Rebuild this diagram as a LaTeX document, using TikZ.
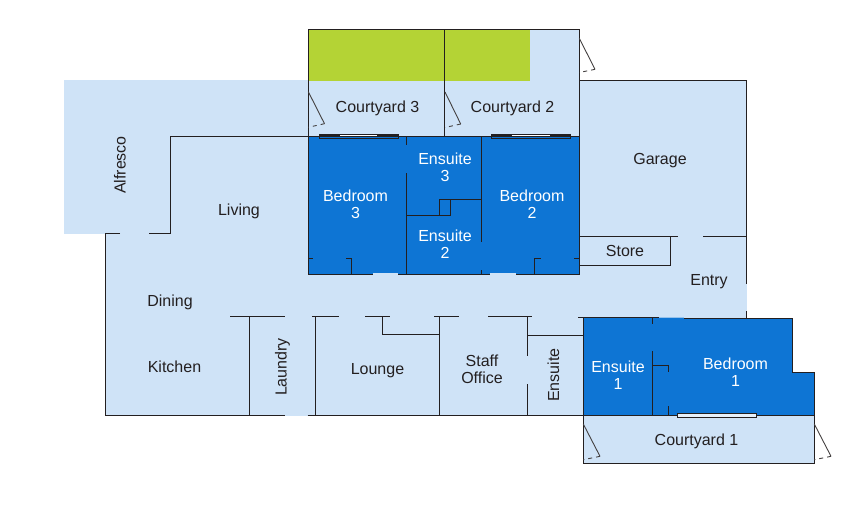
\documentclass[tikz,border=0pt]{standalone}
\usepackage{fontspec}
\setmainfont{Liberation Sans}
\definecolor{lightroom}{RGB}{207,227,247}
\definecolor{darkroom}{RGB}{14,117,212}
\definecolor{planting}{RGB}{180,211,53}
\definecolor{wallc}{RGB}{35,31,32}
\tikzset{
  wall/.style={draw=wallc,line width=1.15pt,line cap=butt,line join=miter},
  swing/.style={draw=wallc!85,line width=0.9pt},
  swingdash/.style={draw=wallc!85,line width=0.9pt,dash pattern=on 4pt off 4pt},
  lbl/.style={text=wallc,font=\fontsize{16}{17}\selectfont,align=center,inner sep=0pt},
  wlbl/.style={lbl,text=white},
}
\begin{document}
\begin{tikzpicture}[x=1pt,y=-1pt]
\useasboundingbox (0,0) rectangle (862,512);
% fills
\fill[lightroom] (64,80) rectangle (308.5,233.7);
\fill[lightroom] (105.3,233) rectangle (583.5,416);
\fill[lightroom] (105.3,233) rectangle (747,317.5);
\fill[lightroom] (308.3,29.3) rectangle (579.3,137);
\fill[lightroom] (579,80.3) rectangle (746.5,317.5);
\fill[lightroom] (583.3,415.3) rectangle (814.3,463.3);
\fill[planting] (308.3,29.3) rectangle (530,80.7);
\fill[darkroom] (308.3,136.5) rectangle (579.3,274.3);
\fill[darkroom] (583.3,318) -- (792.3,318) -- (792.3,372.3) -- (814.3,372.3) -- (814.3,415.3) -- (583.3,415.3) -- cycle;
\fill[lightroom!70!darkroom] (659,316.8) rectangle (684,318);
\fill[lightroom] (372.7,273.3) rectangle (398,274.8);
\fill[lightroom] (490,273.3) rectangle (516,274.8);
% courtyards 2 and 3
\draw[wall] (308.3,136.5) -- (308.3,29.3) -- (579.3,29.3) -- (579.3,136.5);
\draw[wall] (444.5,29.3) -- (444.5,136.5);
% alfresco, living, dining, kitchen outline
\draw[wall] (120,233.3) -- (105.3,233.3) -- (105.3,415.3) -- (285,415.3);
\draw[wall] (149,233.3) -- (170.7,233.3) -- (170.7,136.5) -- (579.3,136.5);
\draw[wall] (307.7,415.3) -- (814.3,415.3);
% garage and entry
\draw[wall] (579.3,80.3) -- (746.4,80.3) -- (746.4,284);
\draw[wall] (746.4,311) -- (746.4,318);
\draw[wall] (579.3,236.3) -- (678,236.3);
\draw[wall] (703,236.3) -- (746.4,236.3);
\draw[wall] (670.7,236.3) -- (670.7,265.3) -- (579.3,265.3);
\draw[wall] (574,258.3) -- (579.3,258.3);
% bedrooms 2 and 3, ensuites 2 and 3
\draw[wall] (308.3,136.5) -- (308.3,274.3) -- (372.7,274.3);
\draw[wall] (398,274.3) -- (490,274.3);
\draw[wall] (516,274.3) -- (579.3,274.3) -- (579.3,136.5);
\draw[wall] (406.3,136.5) -- (406.3,145);
\draw[wall] (406.3,173) -- (406.3,274.3);
\draw[wall] (406.3,215.3) -- (450.3,215.3) -- (450.3,199.7);
\draw[wall] (439.3,215.3) -- (439.3,199.7) -- (481.3,199.7);
\draw[wall] (481.3,136.5) -- (481.3,241.7);
\draw[wall] (481.3,270) -- (481.3,274.3);
\draw[wall] (308.3,258.3) -- (312.7,258.3);
\draw[wall] (346,258.3) -- (351.3,258.3) -- (351.3,274.3);
\draw[wall] (534.3,274.3) -- (534.3,258.3) -- (540.7,258.3);
% service wing walls
\draw[wall] (230,316.3) -- (285,316.3);
\draw[wall] (312,316.3) -- (339,316.3);
\draw[wall] (365.3,316.3) -- (390,316.3);
\draw[wall] (434,316.4) -- (459,316.4);
\draw[wall] (488,316.5) -- (532,316.5);
\draw[wall] (578.3,317.3) -- (659,317.3);
\draw[wall] (684,318.3) -- (792.3,318.3) -- (792.3,372.3) -- (814.3,372.3) -- (814.3,415.3);
\draw[wall] (249.3,316.3) -- (249.3,415.3);
\draw[wall] (315.7,316.3) -- (315.7,415.3);
\draw[wall] (382.7,316.3) -- (382.7,334.3) -- (439.3,334.3);
\draw[wall] (439.3,316.4) -- (439.3,415.3);
\draw[wall] (527.3,316.5) -- (527.3,355.7);
\draw[wall] (527.3,384) -- (527.3,415.3);
\draw[wall] (527.3,335.4) -- (583.3,335.4);
% bedroom 1, ensuite 1
\draw[wall] (583.3,317.3) -- (583.3,463.3) -- (814.3,463.3) -- (814.3,415.3);
\draw[wall] (652.3,317.3) -- (652.3,324);
\draw[wall] (652.3,351) -- (652.3,415.3);
\draw[wall] (652.3,365.3) -- (668.7,365.3) -- (668.7,371.7);
\draw[wall] (668.7,406) -- (668.7,415.3);
% sliding doors
\foreach \xa/\xb/\xc/\xd in {319.3/398.7/340/377, 491.3/570.7/511.7/550}{
  \draw[draw=wallc,line width=0.8pt,fill=darkroom] (\xa,134.4) rectangle (\xb,138.4);
  \fill[wallc] (\xa,134) rectangle (\xb,136.8);
  \draw[white,line width=0.8pt] (\xc,135.3) -- (\xd,135.3);
}
\draw[draw=wallc,line width=0.8pt,fill=lightroom!50!white] (677.3,413.3) rectangle (756.7,417.3);
\draw[wallc,line width=1.2pt] (756.7,413.3) -- (756.7,417.3);
% swing doors
\foreach \xa/\ya/\xb/\yb/\yc in {308.3/91.7/324.5/123.7/127.3, 445/92/460.7/124/127.5, 579.3/38.3/595/69.3/72.5, 583.3/424/600/456.3/459.7, 814.3/424/831/456.3/459.7}{
  \draw[swing] (\xa,\ya) -- (\xb,\yb);
  \draw[swingdash] (\xb,\yb) -- (\xa,\yc);
}
% labels
\node[lbl] (cy3) at (377.5,108.5) {Courtyard 3};
\node[lbl] (cy2) at (512.5,108.5) {Courtyard 2};
\node[lbl] (garage) at (660,160.5) {Garage};
\node[lbl,rotate=90] (alfresco) at (120,165) {Alfresco};
\node[lbl] (living) at (239,211) {Living};
\node[wlbl] (bed3) at (355.5,204) {Bedroom\\3};
\node[wlbl] (ens3) at (445,167) {Ensuite\\3};
\node[wlbl] (bed2) at (532,204) {Bedroom\\2};
\node[wlbl] (ens2) at (445,244) {Ensuite\\2};
\node[lbl] (store) at (625,251) {Store};
\node[lbl] (entry) at (709,281.5) {Entry};
\node[lbl] (dining) at (170,302) {Dining};
\node[lbl] (kitchen) at (174.5,367) {Kitchen};
\node[lbl,rotate=90] (laundry) at (282.5,367) {Laundry};
\node[lbl] (lounge) at (377.5,370.5) {Lounge};
\node[lbl] (staff) at (482,369) {Staff\\Office};
\node[lbl,rotate=90] (ens) at (553.5,375) {Ensuite};
\node[wlbl] (ens1) at (618,375) {Ensuite\\1};
\node[wlbl] (bed1) at (735.5,372) {Bedroom\\1};
\node[lbl] (cy1) at (696.5,441) {Courtyard 1};
\end{tikzpicture}
\end{document}
